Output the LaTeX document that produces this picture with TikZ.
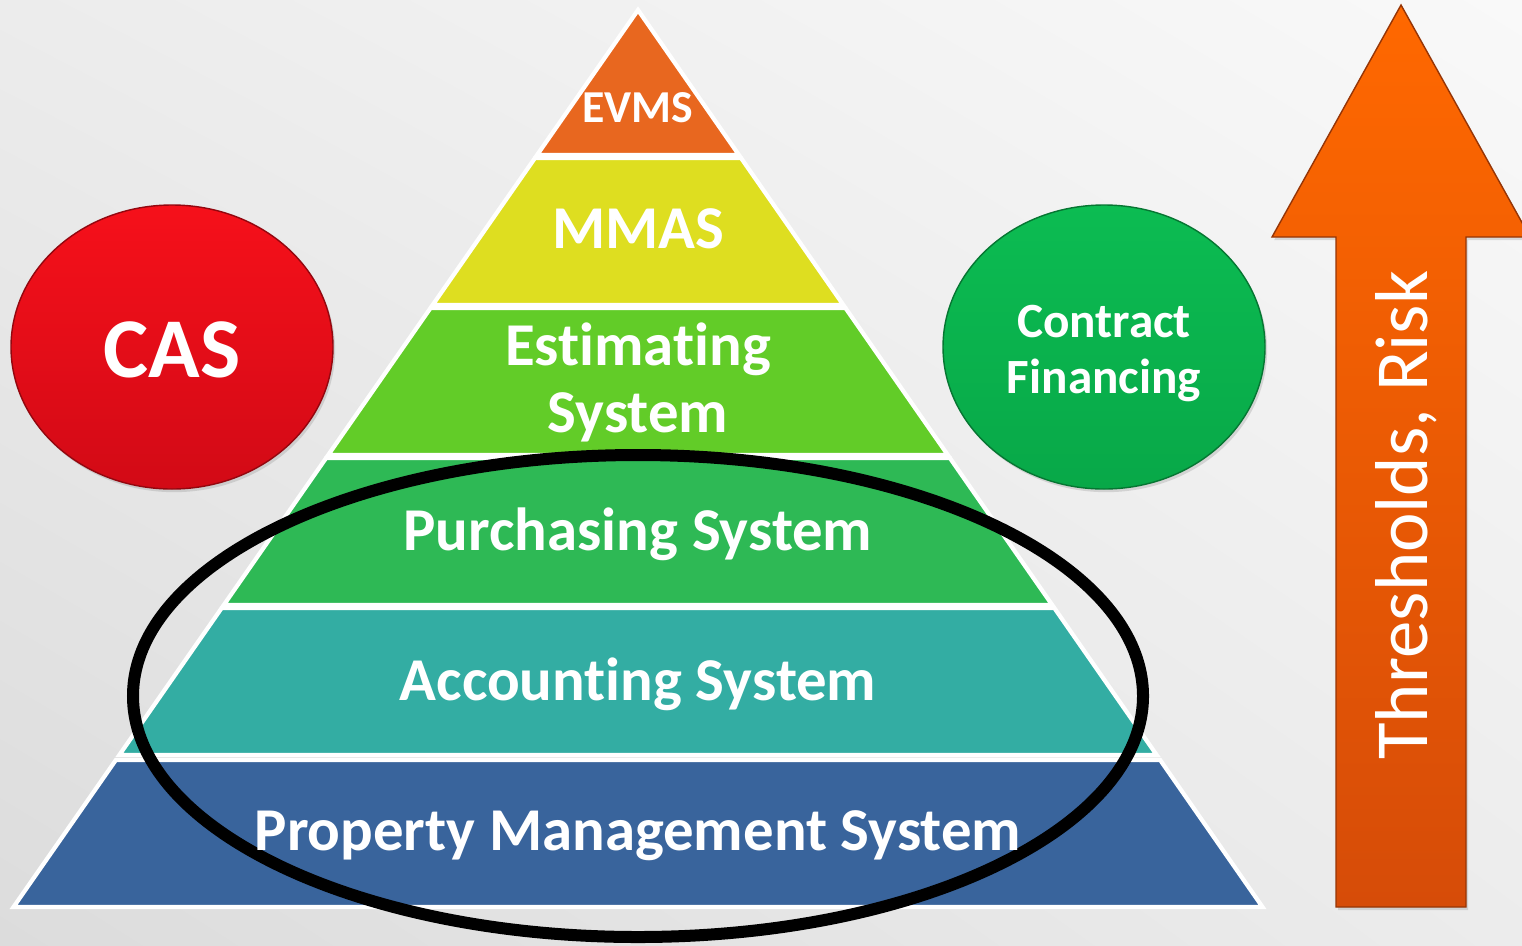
\documentclass[tikz,border=0pt]{standalone}
\usepackage{fontspec}
\setmainfont{Carlito}[Ligatures=NoCommon]
\usetikzlibrary{shadows,shadings}
\tikzset{>=latex}
\definecolor{mybgdark}{RGB}{220,220,220}
\definecolor{mybgmid}{RGB}{236,236,236}
\definecolor{mybglight}{RGB}{249,249,249}
\definecolor{myorange}{RGB}{232,103,31}
\definecolor{myyellow}{RGB}{222,222,32}
\definecolor{mylightgreen}{RGB}{98,204,40}
\definecolor{mygreen}{RGB}{46,185,85}
\definecolor{myteal}{RGB}{51,173,163}
\definecolor{myblue}{RGB}{57,100,156}
\definecolor{myredtop}{RGB}{246,16,26}
\definecolor{myredbot}{RGB}{210,10,22}
\definecolor{mygreentop}{RGB}{12,188,82}
\definecolor{mygreenbot}{RGB}{8,168,72}
\definecolor{myarrowtop}{RGB}{255,104,0}
\definecolor{myarrowbot}{RGB}{214,76,8}

\tikzset{
  layer/.style={draw=white, line width=1.2pt},
  layerlabel/.style={text=white, anchor=base, align=center,
    font=\fontsize{17.3}{19}\selectfont\bfseries},
  bubble/.style={line width=0.4pt, drop shadow={opacity=0.25,
    shadow xshift=0.6pt, shadow yshift=-0.9pt}},
}

\begin{document}
\begin{tikzpicture}[x=0.01cm,y=-0.01cm]

  \clip (0,0) rectangle (1522,945);

  % background
  \shade[upper left=mybgmid, upper right=mybglight,
         lower left=mybgdark, lower right=mybgmid]
    (0,0) rectangle (1522,945);

  % side bubbles
  \shade[bubble, top color=myredtop, bottom color=myredbot, draw=myredbot!70!black]
    (172,347) ellipse (161 and 142);
  \shade[bubble, top color=mygreentop, bottom color=mygreenbot, draw=mygreenbot!70!black]
    (1104,347) ellipse (161 and 142);

  % big arrow
  \shade[bubble, top color=myarrowtop, bottom color=myarrowbot, draw=myarrowbot!70!black]
    (1401,5) -- (1530,237) -- (1466,237) -- (1466,907)
    -- (1336,907) -- (1336,237) -- (1272,237) -- cycle;

  % pyramid
  \def\px{638}   % apex x
  \def\py{10}    % apex y
  \def\sl{0.6962} % half width per unit height
  \foreach \ya/\yb/\col in {10/155/myorange, 158/305/myyellow,
      308/455/mylightgreen, 458/605/mygreen, 608/755/myteal, 760/907/myblue}
  {
    \pgfmathsetmacro\wa{\sl*(\ya-\py)}
    \pgfmathsetmacro\wb{\sl*(\yb-\py)}
    \filldraw[layer, fill=\col]
      (\px-\wa,\ya) -- (\px+\wa,\ya) -- (\px+\wb,\yb) -- (\px-\wb,\yb) -- cycle;
  }

  % ring
  \draw[line width=0.12cm] (638,696) ellipse (505 and 241);

  % labels
  \node[layerlabel, font=\fontsize{13}{15}\selectfont\bfseries] (evms) at (638,122) {EVMS};
  \node[layerlabel] (mmas) at (638,248) {MMAS};
  \node[layerlabel] (estimating) at (638,432) {Estimating\\System};
  \node[layerlabel] (purchasing) at (638,550) {Purchasing System};
  \node[layerlabel] (accounting) at (638,700) {Accounting System};
  \node[layerlabel] (property) at (638,850) {Property Management System};
  \node[layerlabel, font=\fontsize{24.2}{28}\selectfont\bfseries] (cas) at (172,377) {CAS};
  \node[layerlabel, font=\fontsize{14}{15.9}\selectfont\bfseries] (financing) at (1104,393)
    {Contract\\Financing};
  \node[layerlabel, rotate=90, font=\fontsize{21.3}{24}\selectfont] (risk) at (1427,515)
    {Thresholds, Risk};

\end{tikzpicture}
\end{document}
